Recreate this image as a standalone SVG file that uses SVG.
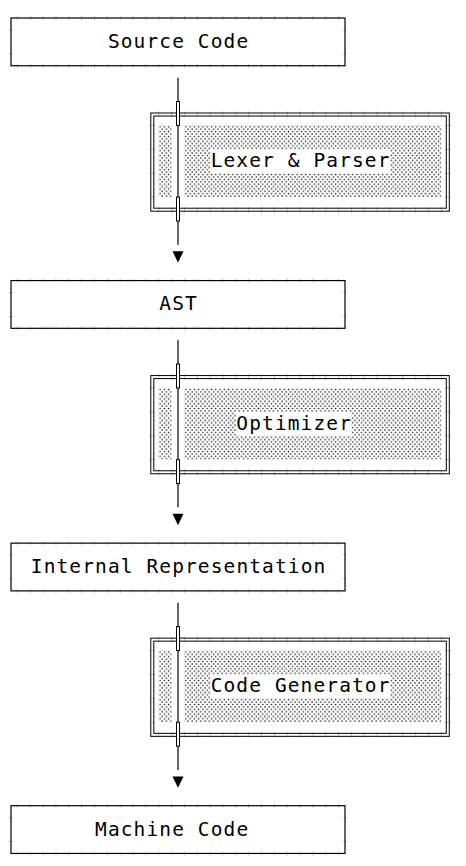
<svg xmlns="http://www.w3.org/2000/svg" width="466" height="866" viewBox="0 0 466 866">
<style>
.bg{fill:#ffffff}
.box{fill:none;stroke:#000;stroke-width:1.2}
.dbl{fill:none;stroke:#000;stroke-width:1}
.tickh{stroke:#c8c8c8;stroke-width:4;stroke-dasharray:1 11.846;fill:none}
.tickv{stroke:#c8c8c8;stroke-width:4;stroke-dasharray:1 22.87;fill:none}
.tickhd{stroke:#c8c8c8;stroke-width:6;stroke-dasharray:1 11.846;fill:none}
.tickvd{stroke:#c8c8c8;stroke-width:6;stroke-dasharray:1 22.87;fill:none}
.lbl{font-family:"DejaVu Sans Mono","Liberation Mono",monospace;font-size:19.5px;letter-spacing:1.11px;fill:#000}
.wire{stroke:#000;stroke-width:1.2;fill:none}
.jn{fill:#fff;stroke:#000;stroke-width:1}
.shade{fill:url(#shade)}
</style>
<defs>
<pattern id="shade" patternUnits="userSpaceOnUse" x="158.73" y="125.4" width="4.282" height="4.774">
<rect x="0.7" y="0.8" width="1.3" height="1.3" fill="#0a0a0a"/>
<rect x="2.84" y="3.2" width="1.3" height="1.3" fill="#0a0a0a"/>
</pattern>
<polygon id="tri" points="172.5,251.3 183.5,251.3 178,262.6" fill="#000"/>
</defs>
<rect class="bg" x="0" y="0" width="466" height="866"/>

<!-- simple boxes -->
<g id="source-code">
<line class="tickh" x1="16.92" y1="18" x2="339.2" y2="18"/>
<line class="tickh" x1="16.92" y1="65.74" x2="339.2" y2="65.74"/>
<line class="tickv" x1="11" y1="29.44" x2="11" y2="54.4"/>
<line class="tickv" x1="345" y1="29.44" x2="345" y2="54.4"/>
<rect class="box" x="11" y="18" width="334" height="47.74"/>
<text class="lbl" x="107.9" y="47.8">Source Code</text>
</g>

<g id="ast" transform="translate(0,262.57)">
<line class="tickh" x1="16.92" y1="18" x2="339.2" y2="18"/>
<line class="tickh" x1="16.92" y1="65.74" x2="339.2" y2="65.74"/>
<line class="tickv" x1="11" y1="29.44" x2="11" y2="54.4"/>
<line class="tickv" x1="345" y1="29.44" x2="345" y2="54.4"/>
<rect class="box" x="11" y="18" width="334" height="47.74"/>
<text class="lbl" x="159.3" y="47.8">AST</text>
</g>

<g id="internal-representation" transform="translate(0,525.14)">
<line class="tickh" x1="16.92" y1="18" x2="339.2" y2="18"/>
<line class="tickh" x1="16.92" y1="65.74" x2="339.2" y2="65.74"/>
<line class="tickv" x1="11" y1="29.44" x2="11" y2="54.4"/>
<line class="tickv" x1="345" y1="29.44" x2="345" y2="54.4"/>
<rect class="box" x="11" y="18" width="334" height="47.74"/>
<text class="lbl" x="30.8" y="47.8">Internal Representation</text>
</g>

<g id="machine-code" transform="translate(0,787.71)">
<line class="tickh" x1="16.92" y1="18" x2="339.2" y2="18"/>
<line class="tickh" x1="16.92" y1="65.74" x2="339.2" y2="65.74"/>
<line class="tickv" x1="11" y1="29.44" x2="11" y2="54.4"/>
<line class="tickv" x1="345" y1="29.44" x2="345" y2="54.4"/>
<rect class="box" x="11" y="18" width="334" height="47.74"/>
<text class="lbl" x="95.05" y="47.8">Machine Code</text>
</g>

<!-- double boxes -->
<g id="lexer-parser">
<line class="tickhd" x1="158.23" y1="114.5" x2="442" y2="114.5"/>
<line class="tickhd" x1="158.23" y1="209.7" x2="442" y2="209.7"/>
<line class="tickvd" x1="152.3" y1="124.9" x2="152.3" y2="198"/>
<line class="tickvd" x1="447.8" y1="124.9" x2="447.8" y2="198"/>
<rect class="dbl" x="150.8" y="113" width="298.5" height="98.2"/>
<rect class="dbl" x="153.8" y="116" width="292.5" height="92.2"/>
<rect class="shade" x="158.73" y="125.4" width="12.85" height="71.6"/>
<rect class="shade" x="184.42" y="125.4" width="256.93" height="23.87"/>
<rect class="shade" x="184.42" y="173.13" width="256.93" height="23.87"/>
<rect class="shade" x="184.42" y="149.27" width="25.69" height="23.86"/>
<rect class="shade" x="389.96" y="149.27" width="51.39" height="23.86"/>
<text class="lbl" x="210.67" y="167">Lexer &amp; Parser</text>
</g>

<g id="optimizer" transform="translate(0,262.57)">
<line class="tickhd" x1="158.23" y1="114.5" x2="442" y2="114.5"/>
<line class="tickhd" x1="158.23" y1="209.7" x2="442" y2="209.7"/>
<line class="tickvd" x1="152.3" y1="124.9" x2="152.3" y2="198"/>
<line class="tickvd" x1="447.8" y1="124.9" x2="447.8" y2="198"/>
<rect class="dbl" x="150.8" y="113" width="298.5" height="98.2"/>
<rect class="dbl" x="153.8" y="116" width="292.5" height="92.2"/>
<rect class="shade" x="158.73" y="125.4" width="12.85" height="71.6"/>
<rect class="shade" x="184.42" y="125.4" width="256.93" height="23.87"/>
<rect class="shade" x="184.42" y="173.13" width="256.93" height="23.87"/>
<rect class="shade" x="184.42" y="149.27" width="51.38" height="23.86"/>
<rect class="shade" x="351.42" y="149.27" width="89.93" height="23.86"/>
<text class="lbl" x="236.36" y="167">Optimizer</text>
</g>

<g id="code-generator" transform="translate(0,525.14)">
<line class="tickhd" x1="158.23" y1="114.5" x2="442" y2="114.5"/>
<line class="tickhd" x1="158.23" y1="209.7" x2="442" y2="209.7"/>
<line class="tickvd" x1="152.3" y1="124.9" x2="152.3" y2="198"/>
<line class="tickvd" x1="447.8" y1="124.9" x2="447.8" y2="198"/>
<rect class="dbl" x="150.8" y="113" width="298.5" height="98.2"/>
<rect class="dbl" x="153.8" y="116" width="292.5" height="92.2"/>
<rect class="shade" x="158.73" y="125.4" width="12.85" height="71.6"/>
<rect class="shade" x="184.42" y="125.4" width="256.93" height="23.87"/>
<rect class="shade" x="184.42" y="173.13" width="256.93" height="23.87"/>
<rect class="shade" x="184.42" y="149.27" width="25.69" height="23.86"/>
<rect class="shade" x="389.96" y="149.27" width="51.39" height="23.86"/>
<text class="lbl" x="210.67" y="167">Code Generator</text>
</g>

<!-- connectors -->
<g id="connectors">
<g>
<line class="wire" x1="178" y1="77.7" x2="178" y2="244.8"/>
<rect class="jn" x="176.5" y="101.5" width="3" height="23.9"/>
<rect class="jn" x="176.5" y="197.1" width="3" height="23.9"/>
<use href="#tri"/>
</g>
<g transform="translate(0,262.57)">
<line class="wire" x1="178" y1="77.7" x2="178" y2="244.8"/>
<rect class="jn" x="176.5" y="101.5" width="3" height="23.9"/>
<rect class="jn" x="176.5" y="197.1" width="3" height="23.9"/>
<use href="#tri"/>
</g>
<g transform="translate(0,525.14)">
<line class="wire" x1="178" y1="77.7" x2="178" y2="244.8"/>
<rect class="jn" x="176.5" y="101.5" width="3" height="23.9"/>
<rect class="jn" x="176.5" y="197.1" width="3" height="23.9"/>
<use href="#tri"/>
</g>
</g>
</svg>
